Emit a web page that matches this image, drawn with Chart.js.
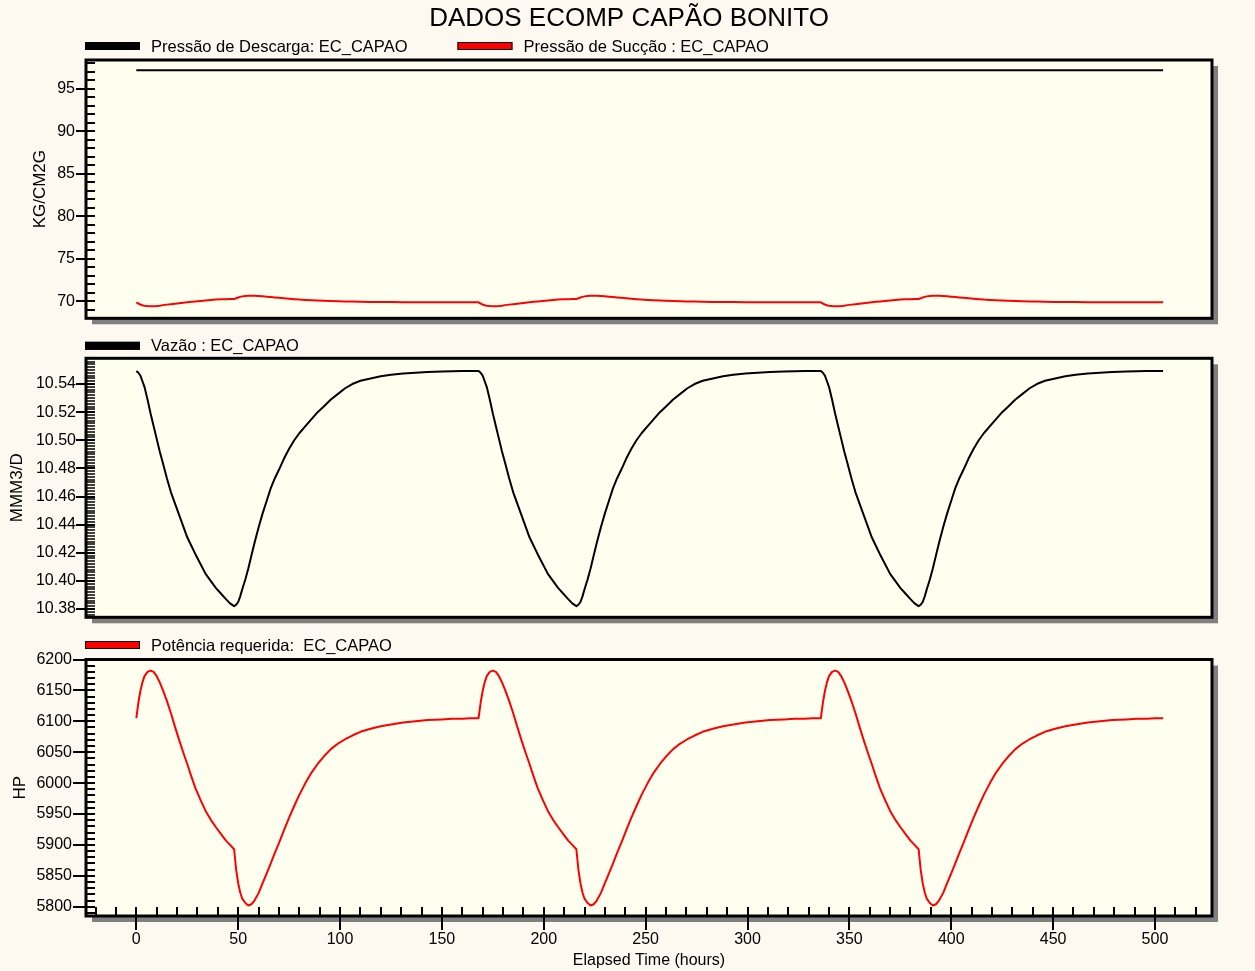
<!DOCTYPE html>
<html>
<head>
<meta charset="utf-8">
<title>DADOS ECOMP CAPÃO BONITO</title>
<script src="https://cdn.jsdelivr.net/npm/chart.js@4.4.1/dist/chart.umd.min.js"></script>
<style>
  html, body { margin: 0; padding: 0; background: #fdf9f0; }
  #wrap { position: relative; width: 1255px; height: 971px; overflow: hidden; }
  canvas { position: absolute; left: 0; }
</style>
</head>
<body>
<div id="wrap">
  <canvas id="pressao" width="1255" height="330" style="top:0px"></canvas>
  <canvas id="vazao" width="1255" height="300" style="top:330px"></canvas>
  <canvas id="potencia" width="1255" height="341" style="top:630px"></canvas>
</div>
<script>
// simulation output, three weekly cycles (hours)
const hours = [
  0, 1, 2, 3, 4, 5.5, 7, 8.5, 10, 11.5, 13, 15, 17, 19, 21, 23, 25, 27, 29, 31.5, 34, 36.5, 39, 41.5, 44, 46, 48, 49, 50, 51, 52, 53.5,
  55, 56.5, 58, 60, 62, 64, 66, 68, 70, 72.5, 75, 77.5, 80, 83, 86, 89, 92, 95.5, 99, 102.5, 106, 110, 115, 120, 125, 131, 137, 143, 150, 155, 160, 164,
  168, 169, 170, 171, 172, 173.5, 175, 176.5, 178, 179.5, 181, 183, 185, 187, 189, 191, 193, 195, 197, 199.5, 202, 204.5, 207, 209.5, 212, 214, 216, 217, 218, 219, 220, 221.5,
  223, 224.5, 226, 228, 230, 232, 234, 236, 238, 240.5, 243, 245.5, 248, 251, 254, 257, 260, 263.5, 267, 270.5, 274, 278, 283, 288, 293, 299, 305, 311, 318, 323, 328, 332,
  336, 337, 338, 339, 340, 341.5, 343, 344.5, 346, 347.5, 349, 351, 353, 355, 357, 359, 361, 363, 365, 367.5, 370, 372.5, 375, 377.5, 380, 382, 384, 385, 386, 387, 388, 389.5,
  391, 392.5, 394, 396, 398, 400, 402, 404, 406, 408.5, 411, 413.5, 416, 419, 422, 425, 428, 431.5, 435, 438.5, 442, 446, 451, 456, 461, 467, 473, 479, 486, 491, 496, 500,
  504
];

const descargaHours = [0, 168, 336, 504];
const descarga = [97.2, 97.2, 97.2, 97.2];

const succao = [
  69.88, 69.74, 69.62, 69.54, 69.48, 69.44, 69.42, 69.42, 69.45, 69.49, 69.55, 69.61, 69.66, 69.72, 69.78, 69.84, 69.89, 69.94, 69.98, 70.04, 70.10, 70.15, 70.20, 70.23, 70.25, 70.27, 70.28, 70.36, 70.45, 70.52, 70.58, 70.62,
  70.65, 70.66, 70.65, 70.63, 70.60, 70.55, 70.50, 70.45, 70.41, 70.36, 70.31, 70.25, 70.20, 70.16, 70.12, 70.09, 70.06, 70.03, 70.01, 69.99, 69.97, 69.95, 69.93, 69.92, 69.91, 69.90, 69.89, 69.89, 69.88, 69.88, 69.88, 69.88,
  69.88, 69.74, 69.62, 69.54, 69.48, 69.44, 69.42, 69.42, 69.45, 69.49, 69.55, 69.61, 69.66, 69.72, 69.78, 69.84, 69.89, 69.94, 69.98, 70.04, 70.10, 70.15, 70.20, 70.23, 70.25, 70.27, 70.28, 70.36, 70.45, 70.52, 70.58, 70.62,
  70.65, 70.66, 70.65, 70.63, 70.60, 70.55, 70.50, 70.45, 70.41, 70.36, 70.31, 70.25, 70.20, 70.16, 70.12, 70.09, 70.06, 70.03, 70.01, 69.99, 69.97, 69.95, 69.93, 69.92, 69.91, 69.90, 69.89, 69.89, 69.88, 69.88, 69.88, 69.88,
  69.88, 69.74, 69.62, 69.54, 69.48, 69.44, 69.42, 69.42, 69.45, 69.49, 69.55, 69.61, 69.66, 69.72, 69.78, 69.84, 69.89, 69.94, 69.98, 70.04, 70.10, 70.15, 70.20, 70.23, 70.25, 70.27, 70.28, 70.36, 70.45, 70.52, 70.58, 70.62,
  70.65, 70.66, 70.65, 70.63, 70.60, 70.55, 70.50, 70.45, 70.41, 70.36, 70.31, 70.25, 70.20, 70.16, 70.12, 70.09, 70.06, 70.03, 70.01, 69.99, 69.97, 69.95, 69.93, 69.92, 69.91, 69.90, 69.89, 69.89, 69.88, 69.88, 69.88, 69.88,
  69.88
];

const vazao = [
  10.5493, 10.548, 10.546, 10.542, 10.538, 10.529, 10.519, 10.510, 10.501, 10.492, 10.484, 10.473, 10.463, 10.455, 10.447, 10.439, 10.431, 10.425, 10.419, 10.412, 10.405, 10.400, 10.395, 10.391, 10.387, 10.384, 10.382, 10.383, 10.385, 10.389, 10.394, 10.401,
  10.409, 10.418, 10.427, 10.438, 10.448, 10.457, 10.466, 10.473, 10.479, 10.487, 10.494, 10.500, 10.505, 10.510, 10.515, 10.520, 10.524, 10.529, 10.533, 10.537, 10.5400, 10.5423, 10.5440, 10.5455, 10.5466, 10.5475, 10.5481, 10.5486, 10.5489, 10.5491, 10.5492, 10.5493,
  10.5493, 10.548, 10.546, 10.542, 10.538, 10.529, 10.519, 10.510, 10.501, 10.492, 10.484, 10.473, 10.463, 10.455, 10.447, 10.439, 10.431, 10.425, 10.419, 10.412, 10.405, 10.400, 10.395, 10.391, 10.387, 10.384, 10.382, 10.383, 10.385, 10.389, 10.394, 10.401,
  10.409, 10.418, 10.427, 10.438, 10.448, 10.457, 10.466, 10.473, 10.479, 10.487, 10.494, 10.500, 10.505, 10.510, 10.515, 10.520, 10.524, 10.529, 10.533, 10.537, 10.5400, 10.5423, 10.5440, 10.5455, 10.5466, 10.5475, 10.5481, 10.5486, 10.5489, 10.5491, 10.5492, 10.5493,
  10.5493, 10.548, 10.546, 10.542, 10.538, 10.529, 10.519, 10.510, 10.501, 10.492, 10.484, 10.473, 10.463, 10.455, 10.447, 10.439, 10.431, 10.425, 10.419, 10.412, 10.405, 10.400, 10.395, 10.391, 10.387, 10.384, 10.382, 10.383, 10.385, 10.389, 10.394, 10.401,
  10.409, 10.418, 10.427, 10.438, 10.448, 10.457, 10.466, 10.473, 10.479, 10.487, 10.494, 10.500, 10.505, 10.510, 10.515, 10.520, 10.524, 10.529, 10.533, 10.537, 10.5400, 10.5423, 10.5440, 10.5455, 10.5466, 10.5475, 10.5481, 10.5486, 10.5489, 10.5491, 10.5492, 10.5493,
  10.5493
];

const potencia = [
  6105, 6130, 6149, 6163, 6173, 6180, 6182, 6180, 6173, 6163, 6151, 6133, 6113, 6091, 6070, 6050, 6031, 6011, 5992, 5973, 5955, 5941, 5929, 5918, 5907, 5900, 5893, 5860, 5838, 5823, 5813, 5806,
  5802, 5804, 5810, 5822, 5838, 5854, 5870, 5887, 5903, 5924, 5944, 5963, 5981, 6000, 6017, 6031, 6043, 6055, 6064, 6071, 6077, 6083, 6088, 6092, 6095, 6098, 6100, 6102, 6103, 6104, 6104, 6105,
  6105, 6130, 6149, 6163, 6173, 6180, 6182, 6180, 6173, 6163, 6151, 6133, 6113, 6091, 6070, 6050, 6031, 6011, 5992, 5973, 5955, 5941, 5929, 5918, 5907, 5900, 5893, 5860, 5838, 5823, 5813, 5806,
  5802, 5804, 5810, 5822, 5838, 5854, 5870, 5887, 5903, 5924, 5944, 5963, 5981, 6000, 6017, 6031, 6043, 6055, 6064, 6071, 6077, 6083, 6088, 6092, 6095, 6098, 6100, 6102, 6103, 6104, 6104, 6105,
  6105, 6130, 6149, 6163, 6173, 6180, 6182, 6180, 6173, 6163, 6151, 6133, 6113, 6091, 6070, 6050, 6031, 6011, 5992, 5973, 5955, 5941, 5929, 5918, 5907, 5900, 5893, 5860, 5838, 5823, 5813, 5806,
  5802, 5804, 5810, 5822, 5838, 5854, 5870, 5887, 5903, 5924, 5944, 5963, 5981, 6000, 6017, 6031, 6043, 6055, 6064, 6071, 6077, 6083, 6088, 6092, 6095, 6098, 6100, 6102, 6103, 6104, 6104, 6105,
  6105
];

const hourTicks = [0, 50, 100, 150, 200, 250, 300, 350, 400, 450, 500];
const pressaoTicks = [70, 75, 80, 85, 90, 95];
const vazaoTicks = [10.38, 10.40, 10.42, 10.44, 10.46, 10.48, 10.50, 10.52, 10.54];
const potenciaTicks = [5800, 5850, 5900, 5950, 6000, 6050, 6100, 6150, 6200];

const FONT = '"Liberation Sans", Arial, sans-serif';
const PLOT_BG = '#fffff0';
const SHADOW = '#808080';
const RED = '#ff0000';

Chart.defaults.font.family = FONT;
Chart.defaults.color = '#000';

const pts = (xs, ys) => xs.map((x, i) => ({ x: x, y: ys[i] }));

// boxed plot area with drop shadow, inner tick marks, legend row above the box
const framePlugin = {
  id: 'frame',
  beforeDraw(chart) {
    const { ctx, chartArea: a } = chart;
    ctx.save();
    ctx.fillStyle = SHADOW;
    ctx.fillRect(a.left + 6, a.top + 6, a.width, a.height);
    ctx.fillStyle = PLOT_BG;
    ctx.fillRect(a.left, a.top, a.width, a.height);
    ctx.restore();
  },
  afterDraw(chart, args, opts) {
    const { ctx, chartArea: a, scales } = chart;
    ctx.save();
    ctx.strokeStyle = '#000';
    ctx.lineWidth = 3;
    ctx.strokeRect(a.left, a.top, a.width, a.height);

    // minor ticks
    ctx.lineWidth = opts.minorWidth || 2;
    ctx.beginPath();
    const y = scales.y;
    const lo = Math.ceil(y.min / opts.yMinor - 1e-6);
    const hi = Math.floor(y.max / opts.yMinor + 1e-6);
    for (let i = lo; i <= hi; i++) {
      const py = Math.round(y.getPixelForValue(i * opts.yMinor));
      if (py <= a.top + 2 || py >= a.bottom - 2) continue;
      ctx.moveTo(a.left, py);
      ctx.lineTo(a.left + 9, py);
    }
    if (opts.xTicks) {
      const x = scales.x;
      const xlo = Math.ceil(x.min / 10), xhi = Math.floor(x.max / 10);
      for (let i = xlo; i <= xhi; i++) {
        const px = Math.round(x.getPixelForValue(i * 10));
        ctx.moveTo(px, a.bottom - 9);
        ctx.lineTo(px, a.bottom);
      }
    }
    ctx.stroke();

    // major ticks, crossing the frame
    ctx.lineWidth = 2;
    ctx.beginPath();
    y.ticks.forEach(t => {
      const py = Math.round(y.getPixelForValue(t.value));
      ctx.moveTo(a.left - opts.yOut, py);
      ctx.lineTo(a.left + 9, py);
    });
    if (opts.xTicks) {
      const x = scales.x;
      x.ticks.forEach(t => {
        const px = Math.round(x.getPixelForValue(t.value));
        ctx.moveTo(px, a.bottom - 9);
        ctx.lineTo(px, a.bottom + 14);
      });
    }
    ctx.stroke();

    // legend
    ctx.font = '16.5px ' + FONT;
    ctx.textBaseline = 'middle';
    ctx.textAlign = 'left';
    let lx = a.left - 1;
    const ly = a.top - opts.legendDy;
    chart.data.datasets.forEach(ds => {
      ctx.fillStyle = ds.borderColor;
      ctx.fillRect(lx, ly - 4, 55, 8);
      ctx.lineWidth = 1;
      ctx.strokeStyle = '#000';
      ctx.strokeRect(lx + 0.5, ly - 3.5, 54, 7);
      ctx.fillStyle = '#000';
      ctx.fillText(ds.label, lx + 66, ly + 1);
      lx += 66 + ctx.measureText(ds.label).width + 50;
    });

    if (opts.title) {
      ctx.font = '26px ' + FONT;
      ctx.textAlign = 'center';
      ctx.fillText(opts.title, 629, 19);
    }
    ctx.restore();
  }
};

// fixed scale sizes so every panel's box lines up
function noEdgePadding(s) {
  s.paddingTop = 0;
  s.paddingBottom = 0;
  s.paddingLeft = 0;
  s.paddingRight = 0;
}

function xScale(show) {
  return {
    type: 'linear',
    min: -24.7,
    max: 528,
    display: show,
    afterFit: s => { s.height = show ? 55 : 0; noEdgePadding(s); },
    afterBuildTicks: s => { s.ticks = hourTicks.map(v => ({ value: v })); },
    grid: { display: false, drawTicks: false },
    border: { display: false },
    ticks: { padding: 14, maxRotation: 0, autoSkip: false, font: { size: 16 } },
    title: { display: show, text: 'Elapsed Time (hours)', font: { size: 16 }, padding: { top: 0, bottom: 1 } }
  };
}

function yScale(min, max, ticks, title, titlePad, labelPad, fmt) {
  return {
    type: 'linear',
    min: min,
    max: max,
    afterFit: s => { s.width = 86; noEdgePadding(s); },
    afterBuildTicks: s => { s.ticks = ticks.map(v => ({ value: v })); },
    grid: { display: false, drawTicks: false },
    border: { display: false },
    ticks: { padding: labelPad, font: { size: 16 }, callback: fmt },
    title: { display: true, text: title, font: { size: 17 }, padding: { top: titlePad, bottom: 0 } }
  };
}

function line(label, data, color) {
  return {
    label: label,
    data: data,
    borderColor: color,
    backgroundColor: color,
    borderWidth: 2,
    pointRadius: 0,
    tension: 0,
    borderJoinStyle: 'round'
  };
}

function baseOptions(padding, frame, scales) {
  return {
    responsive: false,
    animation: false,
    events: [],
    layout: { padding: padding },
    plugins: { legend: { display: false }, tooltip: { enabled: false }, title: { display: false }, frame: frame },
    scales: scales
  };
}

new Chart(document.getElementById('pressao'), {
  type: 'line',
  data: {
    datasets: [
      line('Pressão de Descarga: EC_CAPAO', pts(descargaHours, descarga), '#000000'),
      line('Pressão de Sucção : EC_CAPAO', pts(hours, succao), RED)
    ]
  },
  options: baseOptions(
    { left: 0, right: 43, top: 60, bottom: 11.7 },
    { yMinor: 1, yOut: 10, xTicks: false, legendDy: 14, title: 'DADOS ECOMP CAPÃO BONITO' },
    { x: xScale(false), y: yScale(68, 98.4, pressaoTicks, 'KG/CM2G', 30, 11, v => v) }
  ),
  plugins: [framePlugin]
});

new Chart(document.getElementById('vazao'), {
  type: 'line',
  data: {
    datasets: [line('Vazão : EC_CAPAO', pts(hours, vazao), '#000000')]
  },
  options: baseOptions(
    { left: 0, right: 43, top: 28.3, bottom: 12.7 },
    { yMinor: 0.002, yOut: 10, xTicks: false, legendDy: 12.5, minorWidth: 1.6 },
    { x: xScale(false), y: yScale(10.3741, 10.5583, vazaoTicks, 'MMM3/D', 7, 10, v => v.toFixed(2)) }
  ),
  plugins: [framePlugin]
});

new Chart(document.getElementById('potencia'), {
  type: 'line',
  data: {
    datasets: [line('Potência requerida:  EC_CAPAO', pts(hours, potencia), RED)]
  },
  options: baseOptions(
    { left: 0, right: 43, top: 29.5, bottom: 0 },
    { yMinor: 10, yOut: 13, xTicks: true, legendDy: 14.5 },
    { x: xScale(true), y: yScale(5785, 6200, potenciaTicks, 'HP', 10, 14, v => v) }
  ),
  plugins: [framePlugin]
});
</script>
</body>
</html>
